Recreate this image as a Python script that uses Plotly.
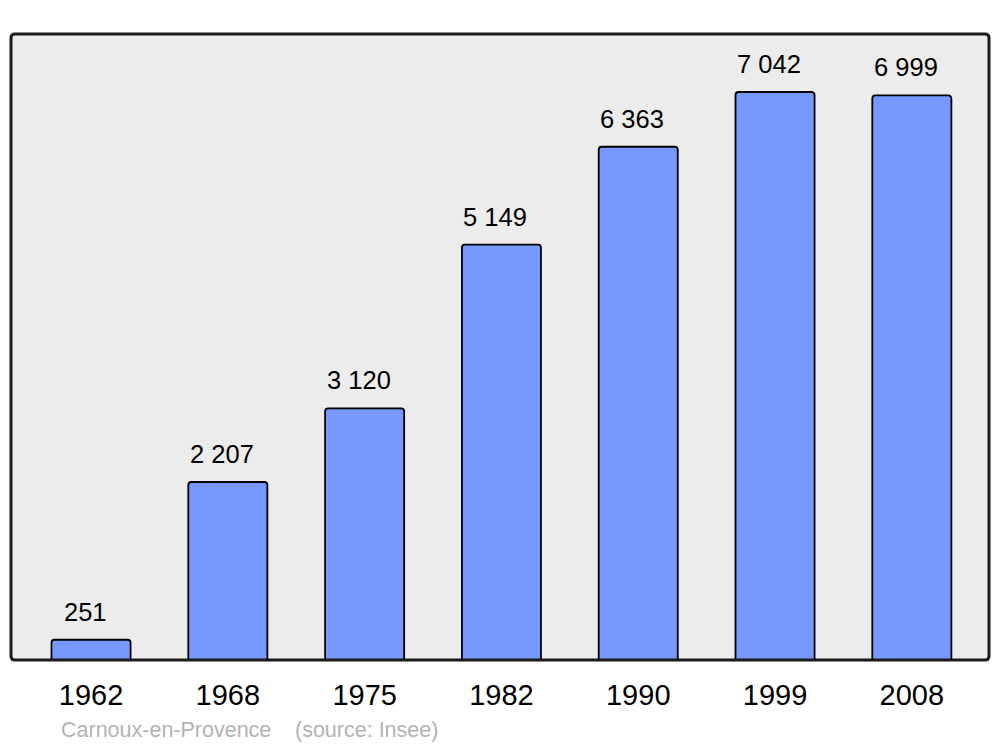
import plotly.graph_objects as go

years = ["1962", "1968", "1975", "1982", "1990", "1999", "2008"]
population = [251, 2207, 3120, 5149, 6363, 7042, 6999]
labels = ["251", "2 207", "3 120", "5 149", "6 363", "7 042", "6 999"]
commune = "Carnoux-en-Provence"
source = "(source: Insee)"

W, H = 1000, 747
ml, mr, mt, mb = 11, 11, 34, 87
FONT = "Liberation Sans, Arial"

fig = go.Figure()
fig.add_trace(go.Bar(
    x=list(range(len(years))), y=population, width=0.578,
    marker=dict(color="#7799ff", line=dict(color="#000000", width=1.8), cornerradius=3),
    hoverinfo="skip",
))

for i, (v, t) in enumerate(zip(population, labels)):
    fig.add_annotation(x=i, y=v, text=t, showarrow=False, xanchor="center", yanchor="middle",
                       xshift=-6, yshift=28, font=dict(family=FONT, size=25.5, color="#000"))

# rounded frame
pw, ph = W - ml - mr, H - mt - mb
rx, ry = 4 / pw, 4 / ph
path = (f"M {rx},0 L {1-rx},0 Q 1,0 1,{ry} L 1,{1-ry} Q 1,1 {1-rx},1 L {rx},1 Q 0,1 0,{1-ry} "
        f"L 0,{ry} Q 0,0 {rx},0 Z")
fig.add_shape(type="path", path=path, xref="paper", yref="paper",
              line=dict(color="#1a1a1a", width=3), layer="above")

src_y = -(730 - (H - mb)) / ph
fig.add_annotation(x=(59 - ml) / pw, y=src_y, xref="paper", yref="paper", text=commune,
                   showarrow=False, xanchor="left", yanchor="middle",
                   font=dict(family=FONT, size=21.5, color="#b3b3b3"))
fig.add_annotation(x=(293 - ml) / pw, y=src_y, xref="paper", yref="paper", text=source,
                   showarrow=False, xanchor="left", yanchor="middle",
                   font=dict(family=FONT, size=21.5, color="#b3b3b3"))

fig.update_layout(
    width=W, height=H, margin=dict(l=ml, r=mr, t=mt, b=mb),
    paper_bgcolor="#ffffff", plot_bgcolor="#ececec", showlegend=False,
    xaxis=dict(range=[-0.585, 6.564], tickmode="array", tickvals=list(range(len(years))), ticktext=years,
               showgrid=False, zeroline=False, showline=False, ticks="", ticklabelstandoff=15,
               tickfont=dict(family=FONT, size=29, color="#000")),
    yaxis=dict(range=[0, 7761], showgrid=False, zeroline=False, showline=False, showticklabels=False, ticks=""),
)

fig.write_html("out.html", config={"displayModeBar": False, "staticPlot": True},
               post_script="document.body.style.margin='0';document.body.style.overflow='hidden';")
